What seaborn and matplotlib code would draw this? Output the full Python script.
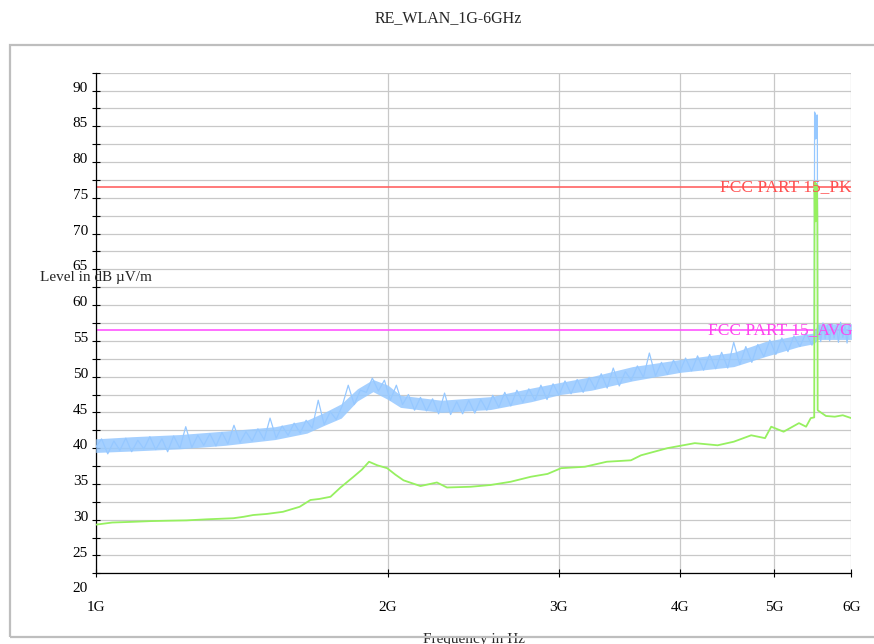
import matplotlib
matplotlib.use("Agg")
import matplotlib.pyplot as plt
import matplotlib.transforms as mtransforms
from matplotlib.patches import Rectangle
from matplotlib.ticker import NullLocator
import seaborn as sns

title = "RE_WLAN_1G-6GHz"
x_label = "Frequency in Hz"
y_label = "Level in dB µV/m"
x_ticks = [1, 2, 3, 4, 5, 6]
x_tick_labels = ["1G", "2G", "3G", "4G", "5G", "6G"]
y_major = [20, 25, 30, 35, 40, 45, 50, 55, 60, 65, 70, 75, 80, 85, 90]
y_minor = [22.5, 27.5, 32.5, 37.5, 42.5, 47.5, 52.5, 57.5, 62.5, 67.5,
           72.5, 77.5, 82.5, 87.5]

# limit lines
limit_names = ["FCC PART 15_PK", "FCC PART 15_AVG"]
limit_levels = [74.0, 54.0]
limit_colors = ["#FF6262", "#FF55FF"]

# peak trace (GHz, dBuV/m)
peak_ghz = [
    1.000, 1.014, 1.029, 1.044, 1.059, 1.074, 1.089, 1.105, 1.121, 1.137,
    1.153, 1.170, 1.186, 1.203, 1.221, 1.238, 1.256, 1.274, 1.292, 1.311,
    1.330, 1.349, 1.368, 1.388, 1.408, 1.428, 1.449, 1.469, 1.491, 1.512,
    1.534, 1.556, 1.578, 1.601, 1.624, 1.647, 1.671, 1.695, 1.719, 1.744,
    1.769, 1.794, 1.820, 1.846, 1.873, 1.900, 1.927, 1.955, 1.983, 2.011,
    2.040, 2.070, 2.099, 2.130, 2.160, 2.191, 2.223, 2.255, 2.287, 2.320,
    2.354, 2.387, 2.422, 2.457, 2.492, 2.528, 2.564, 2.601, 2.638, 2.676,
    2.715, 2.754, 2.793, 2.834, 2.874, 2.916, 2.958, 3.000, 3.043, 3.087,
    3.132, 3.177, 3.222, 3.269, 3.316, 3.363, 3.412, 3.461, 3.511, 3.561,
    3.613, 3.665, 3.717, 3.771, 3.825, 3.880, 3.936, 3.993, 4.050, 4.108,
    4.167, 4.227, 4.288, 4.350, 4.412, 4.476, 4.540, 4.606, 4.672, 4.739,
    4.807, 4.876, 4.946, 5.017, 5.089, 5.163, 5.237, 5.312, 5.389, 5.466,
    5.495, 5.500, 5.504, 5.508, 5.512, 5.516, 5.520, 5.524, 5.528, 5.532,
    5.536, 5.540,
    5.555, 5.580, 5.610, 5.640, 5.670, 5.700, 5.730, 5.760, 5.790, 5.820,
    5.850, 5.880, 5.910, 5.940, 5.970, 6.000,
]
peak_db = [
    37.6, 38.8, 36.7, 38.5, 37.2, 38.9, 37.0, 38.6, 37.4, 39.1,
    37.3, 38.8, 37.0, 39.2, 37.5, 40.5, 37.6, 39.3, 37.9, 39.5,
    37.8, 39.7, 38.1, 40.7, 38.3, 39.8, 38.5, 40.2, 38.7, 41.7,
    38.9, 40.6, 39.3, 41.0, 39.6, 41.4, 40.3, 44.2, 40.8, 42.6,
    41.5, 43.4, 46.3, 43.6, 45.6, 45.3, 47.3, 45.5, 47.0, 44.2,
    46.3, 43.6, 45.0, 42.8, 44.6, 42.7, 44.4, 42.3, 45.2, 42.2,
    44.0, 42.3, 44.2, 42.4, 44.3, 42.8, 44.9, 43.2, 45.3, 43.4,
    45.6, 43.9, 45.8, 44.2, 46.3, 44.3, 46.5, 44.9, 46.9, 45.1,
    47.1, 45.3, 47.4, 45.8, 47.9, 45.9, 48.7, 46.2, 48.2, 47.0,
    49.0, 47.4, 50.8, 47.6, 49.5, 47.8, 49.8, 48.1, 50.1, 48.3,
    50.4, 48.4, 50.6, 48.6, 50.9, 48.7, 52.3, 49.2, 51.7, 49.5,
    52.0, 50.3, 52.6, 50.6, 52.9, 51.0, 53.2, 51.7, 53.6, 51.9,
    53.0, 84.5, 80.7, 84.3, 80.9, 84.0, 81.0, 83.8, 80.8, 84.1,
    81.2, 53.8,
    54.6, 52.4, 55.0, 52.8, 54.7, 52.5, 54.9, 52.9, 54.5, 52.3,
    55.1, 53.0, 54.6, 52.2, 54.8, 53.1,
]

# body of the noisy peak trace (lower / upper edge)
band_ghz = [1.00, 1.09, 1.22, 1.36, 1.53, 1.65, 1.72, 1.79, 1.86, 1.93,
            2.00, 2.06, 2.27, 2.55, 2.81, 3.01, 3.24, 3.57, 4.00, 4.54,
            4.89, 5.30, 5.49, 5.54, 6.00]
band_lo = [36.9, 37.1, 37.4, 37.9, 38.7, 39.6, 40.7, 41.7, 44.1, 45.4,
           44.3, 43.2, 42.5, 42.9, 44.0, 45.0, 45.6, 46.9, 48.1, 48.9,
           50.3, 51.7, 52.1, 52.7, 52.7]
band_hi = [38.8, 39.1, 39.4, 39.9, 40.5, 41.4, 42.5, 43.7, 45.8, 47.1,
           46.3, 44.9, 44.2, 44.7, 45.9, 46.7, 47.5, 48.9, 49.9, 50.9,
           52.4, 53.3, 53.6, 54.9, 54.9]

# average trace
avg_ghz = [
    1.000, 1.040, 1.093, 1.140, 1.184, 1.240, 1.302, 1.386, 1.420, 1.453,
    1.500, 1.559, 1.622, 1.664, 1.700, 1.745, 1.787, 1.843, 1.880, 1.912,
    1.950, 1.996, 2.035, 2.075, 2.160, 2.246, 2.300, 2.433, 2.551, 2.675,
    2.806, 2.920, 3.015, 3.190, 3.360, 3.558, 3.644, 3.880, 4.140, 4.370,
    4.540, 4.732, 4.890, 4.962, 5.110, 5.300, 5.390, 5.450, 5.495,
    5.500, 5.504, 5.508, 5.512, 5.516, 5.520, 5.524, 5.528, 5.532, 5.536,
    5.540, 5.567, 5.650, 5.770, 5.880, 6.000,
]
avg_db = [
    26.8, 27.1, 27.2, 27.3, 27.35, 27.4, 27.55, 27.7, 27.9, 28.15,
    28.3, 28.6, 29.3, 30.25, 30.4, 30.7, 32.0, 33.5, 34.5, 35.6,
    35.1, 34.7, 33.8, 33.0, 32.2, 32.7, 32.0, 32.1, 32.35, 32.8,
    33.5, 33.9, 34.7, 34.9, 35.6, 35.8, 36.5, 37.5, 38.2, 37.9,
    38.4, 39.3, 38.9, 40.5, 39.8, 41.0, 40.5, 41.7, 41.8,
    74.7, 69.2, 74.6, 69.4, 74.5, 69.3, 74.4, 69.5, 74.2, 69.8,
    42.8, 42.6, 42.0, 41.9, 42.1, 41.7,
]

sns.set_style("white")
plt.rcParams["font.family"] = ["Liberation Serif", "DejaVu Serif"]

fig = plt.figure(figsize=(8.74, 6.44), dpi=100)
ax = fig.add_axes([95.7 / 874, 1 - 573.3 / 644, 755.6 / 874, 500.6 / 644])

blue = "#96C8FF"
green = "#96F060"
grid_c = "#C8C8C8"

for lvl, col in zip(limit_levels, limit_colors):
    ax.axhline(lvl, color=col, lw=1.2, zorder=2)

ax.fill_between(band_ghz, band_lo, band_hi, color=blue, alpha=0.85, lw=0,
                zorder=3)
sns.lineplot(x=peak_ghz, y=peak_db, ax=ax, color=blue, lw=0.9,
             estimator=None, sort=False, zorder=3)
sns.lineplot(x=avg_ghz, y=avg_db, ax=ax, color=green, lw=1.3,
             estimator=None, sort=False, zorder=4)

ax.text(6.0, limit_levels[0], limit_names[0], color="#FF5050", fontsize=12.5,
        ha="right", va="center", zorder=6)
ax.text(6.02, limit_levels[1], limit_names[1], color="#FF44EE", fontsize=12.5,
        ha="right", va="center", zorder=6, clip_on=False)

ax.set_xscale("log")
ax.set_xlim(1, 6)
ax.set_ylim(20, 90)
ax.set_xticks(x_ticks)
ax.set_xticklabels(x_tick_labels)
ax.xaxis.set_minor_locator(NullLocator())
ax.set_yticks(y_major)
ax.set_yticklabels([str(v) for v in y_major])
ax.set_yticks(y_minor, minor=True)

ax.grid(True, which="both", axis="y", color=grid_c, lw=0.9)
ax.grid(True, which="major", axis="x", color=grid_c, lw=0.9)
ax.set_axisbelow(True)

for side in ["top", "right"]:
    ax.spines[side].set_visible(False)
for side in ["left", "bottom"]:
    ax.spines[side].set_color("black")
    ax.spines[side].set_linewidth(0.9)

ax.tick_params(axis="y", which="both", direction="inout", length=6,
               width=0.8, pad=2.5, labelsize=11, left=True, colors="black")
ax.tick_params(axis="x", which="major", direction="inout", length=6,
               width=0.8, pad=17, labelsize=11, bottom=True, colors="black")
ax.set_xlabel("")
ax.set_ylabel("")

# y tick labels sit a bit below their grid line in the reference
shift = mtransforms.ScaledTranslation(0, -0.14, fig.dpi_scale_trans)
for lab in ax.get_yticklabels():
    lab.set_transform(lab.get_transform() + shift)

fig.text(448 / 874, 1 - 18 / 644, title, ha="center", va="center", fontsize=11.5)
fig.text(40 / 874, 1 - 278 / 644, y_label, ha="left", va="center", fontsize=11)
fig.text(473.5 / 874, 1 - 633 / 644, x_label, ha="center", va="top", fontsize=11)

frame = Rectangle((10 / 874, 1 - 637 / 644), 1.1, 592 / 644,
                  transform=fig.transFigure, fill=False, ec="#BEBEBE",
                  lw=1.6, zorder=10)
fig.add_artist(frame)

fig.savefig("out.png", dpi=100)
